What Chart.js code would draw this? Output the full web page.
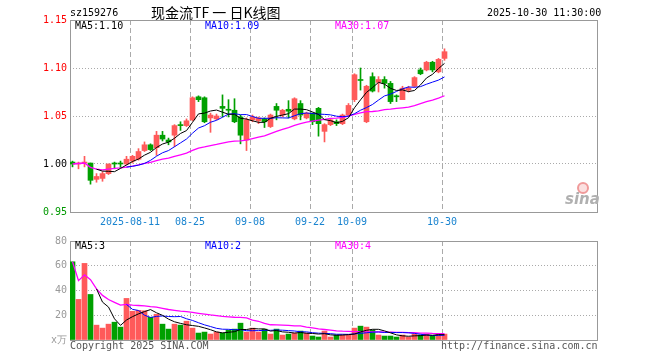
<!DOCTYPE html>
<html>
<head>
<meta charset="utf-8">
<script src="https://cdn.jsdelivr.net/npm/chart.js@4.4.0/dist/chart.umd.min.js"></script>
<style>
  body { margin: 0; background: #fff; width: 660px; height: 360px; position: relative; overflow: hidden;
         font-family: "DejaVu Sans Mono", monospace; font-size: 10px; }
  canvas { position: absolute; left: 0; }
  .t { position: absolute; white-space: nowrap; line-height: 12px; }
</style>
</head>
<body>
<canvas id="kline" width="660" height="232" style="top:0"></canvas>
<canvas id="vol" width="660" height="128" style="top:232px"></canvas>

<div class="t" style="left:70px;top:7px;color:#000">sz159276</div>
<div class="t" style="left:151px;top:3px;font-family:'Noto Sans CJK SC';font-size:14px;line-height:18px;color:#000">现金流TF 一 日K线图</div>
<div class="t" style="left:487px;top:7px;color:#000">2025-10-30 11:30:00</div>

<div class="t" style="left:75px;top:20px;color:#000">MA5:1.10</div>
<div class="t" style="left:205px;top:20px;color:#0000ff">MA10:1.09</div>
<div class="t" style="left:335px;top:20px;color:#ff00ff">MA30:1.07</div>

<div class="t" style="left:75px;top:240px;color:#000">MA5:3</div>
<div class="t" style="left:205px;top:240px;color:#0000ff">MA10:2</div>
<div class="t" style="left:335px;top:240px;color:#ff00ff">MA30:4</div>

<div class="t" style="left:70px;top:340px;color:#555">Copyright 2025 SINA.COM</div>
<div class="t" style="left:441px;top:340px;color:#555">http://finance.sina.com.cn</div>

<div style="position:absolute;left:577px;top:182px;width:8px;height:8px;border:2px solid #f09a9a;border-radius:50%;background:#fbe0e0"></div>
<div class="t" style="left:565px;top:191px;font-family:'DejaVu Sans';font-style:italic;font-weight:bold;font-size:15px;line-height:16px;color:#b0b0b0">sina</div>

<script>
// daily candles, 2025-07-28 .. 2025-10-30
const opens  = [1.002, 1.000, 1.001, 1.001, 0.984, 0.985, 0.990, 1.001, 1.001, 1.000,
                1.003, 1.005, 1.014, 1.020, 1.017, 1.030, 1.025, 1.030, 1.041, 1.040,
                1.046, 1.070, 1.069, 1.048, 1.047, 1.060, 1.057, 1.056, 1.049, 1.025,
                1.046, 1.045, 1.047, 1.039, 1.060, 1.051, 1.057, 1.047, 1.063, 1.048,
                1.053, 1.058, 1.034, 1.041, 1.044, 1.042, 1.051, 1.067, 1.088, 1.044,
                1.091, 1.085, 1.088, 1.084, 1.071, 1.067, 1.077, 1.081, 1.098, 1.098,
                1.106, 1.096, 1.110];
const highs  = [1.003, 1.002, 1.008, 1.001, 0.990, 0.992, 1.000, 1.002, 1.003, 1.008,
                1.009, 1.016, 1.023, 1.021, 1.034, 1.034, 1.027, 1.041, 1.044, 1.047,
                1.070, 1.071, 1.070, 1.053, 1.052, 1.072, 1.067, 1.068, 1.051, 1.048,
                1.051, 1.049, 1.048, 1.052, 1.063, 1.057, 1.066, 1.069, 1.066, 1.054,
                1.053, 1.059, 1.042, 1.047, 1.046, 1.052, 1.063, 1.094, 1.100, 1.082,
                1.095, 1.091, 1.091, 1.086, 1.072, 1.081, 1.081, 1.091, 1.100, 1.107,
                1.107, 1.110, 1.120];
const lows   = [0.997, 0.995, 0.997, 0.979, 0.981, 0.982, 0.989, 0.995, 0.996, 0.999,
                1.001, 1.004, 1.013, 1.014, 1.009, 1.024, 1.020, 1.018, 1.035, 1.039,
                1.045, 1.065, 1.043, 1.033, 1.046, 1.049, 1.049, 1.043, 1.021, 1.014,
                1.044, 1.042, 1.038, 1.038, 1.046, 1.049, 1.048, 1.046, 1.046, 1.047,
                1.041, 1.029, 1.023, 1.040, 1.040, 1.041, 1.050, 1.065, 1.077, 1.043,
                1.075, 1.075, 1.079, 1.063, 1.065, 1.067, 1.075, 1.080, 1.093, 1.097,
                1.096, 1.095, 1.108];
const closes = [1.000, 1.001, 1.002, 0.983, 0.987, 0.990, 1.000, 1.000, 1.000, 1.005,
                1.008, 1.013, 1.020, 1.015, 1.030, 1.026, 1.023, 1.040, 1.040, 1.045,
                1.069, 1.067, 1.044, 1.051, 1.050, 1.058, 1.056, 1.044, 1.030, 1.046,
                1.049, 1.048, 1.044, 1.051, 1.056, 1.056, 1.055, 1.068, 1.051, 1.053,
                1.044, 1.042, 1.041, 1.046, 1.042, 1.051, 1.061, 1.093, 1.087, 1.081,
                1.076, 1.088, 1.084, 1.065, 1.070, 1.079, 1.079, 1.090, 1.094, 1.106,
                1.098, 1.109, 1.117];
// volume, 万手
const volumes = [63.2, 32.8, 61.9, 36.8, 12.0, 9.6, 12.8, 14.4, 10.4, 33.6,
                 23.2, 24.0, 23.6, 18.4, 20.8, 12.8, 8.8, 12.8, 12.0, 15.2,
                 9.6, 5.6, 6.4, 4.8, 6.4, 5.6, 8.0, 8.8, 13.6, 6.4,
                 9.6, 6.4, 8.8, 4.8, 8.8, 4.0, 4.8, 5.6, 7.2, 5.6,
                 3.2, 2.4, 7.2, 2.4, 4.0, 4.0, 4.0, 9.6, 11.2, 10.4,
                 8.0, 4.0, 3.2, 3.2, 2.4, 4.0, 2.4, 4.8, 4.0, 4.8,
                 3.2, 4.8, 4.8];

const tickIdx    = [10, 20, 30, 40, 47, 62];
const tickLabels = ['2025-08-11', '08-25', '09-08', '09-22', '10-09', '10-30'];

const UP = '#ff5a5a', DOWN = '#00a000';
const SLOT = 6;                      // px per trading day
const xMin = -2.5 / SLOT;
const xMax = xMin + 527 / SLOT;

Chart.defaults.font.family = 'DejaVu Sans Mono';
Chart.defaults.font.size = 10;

function movingAvg(src, n, fromStart) {
  return src.map((_, i) => {
    if (i < n - 1 && !fromStart) return null;
    const s = src.slice(Math.max(0, i - n + 1), i + 1);
    return s.reduce((a, b) => a + b, 0) / s.length;
  });
}
const pts = arr => arr.map((y, i) => ({ x: i, y }));
const isUp = closes.map((c, i) => c >= opens[i]);
const colors = isUp.map(u => u ? UP : DOWN);

const frame = {
  id: 'frame',
  beforeDatasetsDraw(chart) {
    const { ctx, chartArea: a } = chart;
    ctx.save();
    ctx.strokeStyle = '#999';
    ctx.lineWidth = 1;
    ctx.setLineDash([]);
    ctx.strokeRect(Math.round(a.left) + 0.5, Math.round(a.top) + 0.5,
                   Math.round(a.right - a.left), Math.round(a.bottom - a.top));
    ctx.restore();
  }
};

function xScale(showLabels) {
  return {
    type: 'linear', min: xMin, max: xMax, bounds: 'data', offset: false,
    afterBuildTicks: s => { s.ticks = tickIdx.map(i => ({ value: i + xMin })); },
    afterFit: s => { s.height = 20; },
    grid: { color: '#aaa', lineWidth: 1, drawTicks: false, offset: false },
    border: { display: false, dash: [5, 3] },
    ticks: { display: showLabels, autoSkip: false, maxRotation: 0, padding: 4, color: '#1a84d0',
             callback: (v, i) => tickLabels[i] }
  };
}

function maLine(data, color, width) {
  return { type: 'line', data: pts(data), borderColor: color, borderWidth: width,
           pointRadius: 0, tension: 0, order: 0 };
}

// Price chart
new Chart(document.getElementById('kline'), {
  type: 'bar',
  data: {
    datasets: [
      { data: highs.map((h, i) => ({ x: i, y: [lows[i], h] })), backgroundColor: colors,
        barThickness: 1, grouped: false, order: 2, borderWidth: 0 },
      { data: opens.map((o, i) => ({ x: i, y: [Math.min(o, closes[i]), Math.max(o, closes[i])] })),
        backgroundColor: colors, barThickness: 5, grouped: false, order: 1, borderWidth: 0, minBarLength: 1 },
      maLine(movingAvg(closes, 5), '#000000', 1),
      maLine(movingAvg(closes, 10), '#0000ff', 1),
      maLine(movingAvg(closes, 30, true), '#ff00ff', 1.3)
    ]
  },
  options: {
    responsive: false, animation: false,
    layout: { padding: { top: 20, left: 0, right: 63, bottom: 0 } },
    plugins: { legend: { display: false }, tooltip: { enabled: false } },
    scales: {
      x: xScale(true),
      y: {
        min: 0.95, max: 1.15,
        afterFit: s => { s.width = 70; },
        grid: { color: '#aaa', drawTicks: false },
        border: { display: false, dash: [1, 2] },
        ticks: { stepSize: 0.05, padding: 3,
                 color: c => c.tick.value > 1.001 ? '#ff0000' : (c.tick.value < 0.999 ? '#009900' : '#000000'),
                 callback: v => v.toFixed(2) }
      }
    }
  },
  plugins: [frame]
});

// Volume chart
new Chart(document.getElementById('vol'), {
  type: 'bar',
  data: {
    datasets: [
      { data: pts(volumes), backgroundColor: colors, barThickness: 5, grouped: false, order: 1, borderWidth: 0 },
      maLine(movingAvg(volumes, 5), '#000000', 1),
      maLine(movingAvg(volumes, 10), '#0000ff', 1),
      maLine(movingAvg(volumes, 30, true), '#ff00ff', 1.3)
    ]
  },
  options: {
    responsive: false, animation: false,
    layout: { padding: { top: 9, left: 0, right: 63, bottom: 0 } },
    plugins: { legend: { display: false }, tooltip: { enabled: false } },
    scales: {
      x: xScale(false),
      y: {
        min: 0, max: 80,
        afterFit: s => { s.width = 70; },
        grid: { color: '#aaa', drawTicks: false },
        border: { display: false, dash: [1, 2] },
        ticks: { stepSize: 20, padding: 3, color: '#999',
                 callback: v => v === 0 ? 'x万' : v }
      }
    }
  },
  plugins: [frame]
});
</script>
</body>
</html>
